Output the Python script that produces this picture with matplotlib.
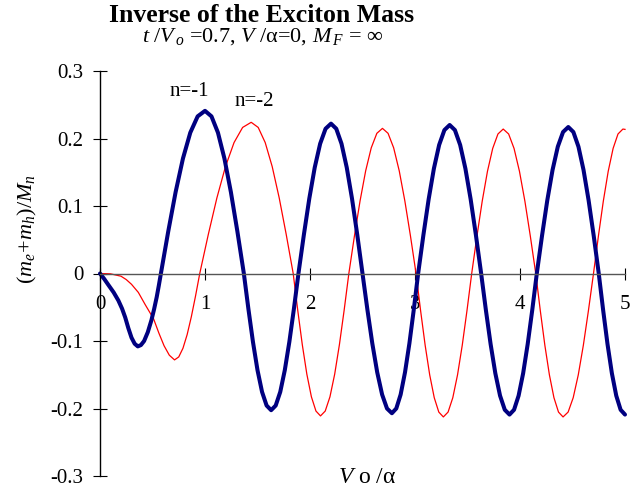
import matplotlib
matplotlib.use('Agg')
import matplotlib.pyplot as plt

# fonts
plt.rcParams['font.family'] = ['Liberation Serif', 'DejaVu Serif']
plt.rcParams['mathtext.fontset'] = 'custom'
plt.rcParams['mathtext.rm'] = 'Liberation Serif'
plt.rcParams['mathtext.it'] = 'Liberation Serif:italic'
plt.rcParams['mathtext.bf'] = 'Liberation Serif:bold'

# data
# n=-1 (thick blue)
x_n1 = [0.00, 0.04, 0.08, 0.13, 0.175, 0.21, 0.24, 0.27, 0.30, 0.33, 0.36,
        0.39, 0.42, 0.455, 0.49, 0.515, 0.54, 0.56, 0.58,
        0.65, 0.72, 0.79, 0.86, 0.93, 1.00,
        1.0617, 1.1233, 1.185, 1.2467, 1.3083, 1.37,
        1.4133, 1.4567, 1.50, 1.5433, 1.5867, 1.63,
        1.6733, 1.7167, 1.76, 1.8033, 1.8467, 1.89,
        1.9417, 1.9933, 2.045, 2.0967, 2.1483, 2.20,
        2.25, 2.30, 2.35, 2.40, 2.45, 2.50,
        2.5467, 2.5933, 2.64, 2.6867, 2.7333, 2.78,
        2.8217, 2.8633, 2.905, 2.9467, 2.9883, 3.03,
        3.08, 3.13, 3.18, 3.23, 3.28, 3.33,
        3.38, 3.43, 3.48, 3.53, 3.58, 3.63,
        3.675, 3.72, 3.765, 3.81, 3.855, 3.90,
        3.9433, 3.9867, 4.03, 4.0733, 4.1167, 4.16,
        4.21, 4.26, 4.31, 4.36, 4.41, 4.46,
        4.5083, 4.5567, 4.605, 4.6533, 4.7017, 4.75,
        4.7917, 4.8333, 4.875, 4.9167, 4.9583, 5.00]
y_n1 = [0.000, -0.008, -0.017, -0.028, -0.040, -0.052, -0.065, -0.081, -0.095, -0.104, -0.108,
        -0.106, -0.100, -0.087, -0.069, -0.053, -0.035, -0.018, 0.000,
        0.0624, 0.1205, 0.1704, 0.2087, 0.2328, 0.241,
        0.2328, 0.2087, 0.1704, 0.1205, 0.0624, 0.000,
        -0.0524, -0.1013, -0.1432, -0.1754, -0.1956, -0.2025,
        -0.1956, -0.1754, -0.1432, -0.1013, -0.0524, 0.000,
        0.0575, 0.111, 0.157, 0.1923, 0.2145, 0.222,
        0.2145, 0.1923, 0.157, 0.111, 0.0575, 0.000,
        -0.0536, -0.1035, -0.1463, -0.1793, -0.200, -0.207,
        -0.200, -0.1793, -0.1463, -0.1035, -0.0536, 0.000,
        0.057, 0.110, 0.1555, 0.1905, 0.2125, 0.220,
        0.2125, 0.1905, 0.1555, 0.110, 0.057, 0.000,
        -0.0541, -0.1045, -0.1478, -0.181, -0.2019, -0.209,
        -0.2019, -0.181, -0.1478, -0.1045, -0.0541, 0.000,
        0.0562, 0.1085, 0.1534, 0.1879, 0.2096, 0.217,
        0.2096, 0.1879, 0.1534, 0.1085, 0.0562, 0.000,
        -0.0541, -0.1045, -0.1478, -0.181, -0.2019, -0.209]

# n=-2 (thin red)
x_n2 = [0.00, 0.10, 0.20, 0.25, 0.30, 0.365, 0.43, 0.51, 0.56, 0.61, 0.66, 0.71,
        0.75, 0.79, 0.83, 0.87, 0.91, 0.95,
        1.0317, 1.1133, 1.195, 1.2767, 1.3583, 1.44,
        1.5067, 1.5733, 1.64, 1.7067, 1.7733, 1.84,
        1.8833, 1.9267, 1.97, 2.0133, 2.0567, 2.10,
        2.145, 2.19, 2.235, 2.28, 2.325, 2.37,
        2.4233, 2.4767, 2.53, 2.5833, 2.6367, 2.69,
        2.7433, 2.7967, 2.85, 2.9033, 2.9567, 3.01,
        3.0533, 3.0967, 3.14, 3.1833, 3.2267, 3.27,
        3.315, 3.36, 3.405, 3.45, 3.495, 3.54,
        3.59, 3.64, 3.69, 3.74, 3.79, 3.84,
        3.8917, 3.9433, 3.995, 4.0467, 4.0983, 4.15,
        4.1933, 4.2367, 4.28, 4.3233, 4.3667, 4.41,
        4.4583, 4.5067, 4.555, 4.6033, 4.6517, 4.70,
        4.7467, 4.7933, 4.84, 4.8867, 4.9333, 4.98, 5.00]
y_n2 = [0.000, -0.0005, -0.004, -0.009, -0.016, -0.028, -0.046, -0.067, -0.088, -0.107, -0.121, -0.128,
        -0.1236, -0.1108, -0.0905, -0.064, -0.0332, 0.000,
        0.058, 0.112, 0.1584, 0.194, 0.2164, 0.224,
        0.2164, 0.194, 0.1584, 0.112, 0.058, 0.000,
        -0.0546, -0.1055, -0.1492, -0.1827, -0.2038, -0.211,
        -0.2038, -0.1827, -0.1492, -0.1055, -0.0546, 0.000,
        0.0557, 0.1075, 0.152, 0.1862, 0.2077, 0.215,
        0.2077, 0.1862, 0.152, 0.1075, 0.0557, 0.000,
        -0.055, -0.1063, -0.1502, -0.184, -0.2053, -0.2125,
        -0.2053, -0.184, -0.1502, -0.1063, -0.055, 0.000,
        0.0554, 0.107, 0.1513, 0.1853, 0.2067, 0.214,
        0.2067, 0.1853, 0.1513, 0.107, 0.0554, 0.000,
        -0.055, -0.1063, -0.1502, -0.184, -0.2053, -0.2125,
        -0.2053, -0.184, -0.1502, -0.1063, -0.055, 0.000,
        0.0554, 0.107, 0.1513, 0.1853, 0.2067, 0.214, 0.2135]

x_ticks = [0, 1, 2, 3, 4, 5]
y_ticks = [-0.3, -0.2, -0.1, 0, 0.1, 0.2, 0.3]
y_ticklabels = ['-0.3', '-0.2', '-0.1', '0', '0.1', '0.2', '0.3']

# figure
fig = plt.figure(figsize=(6.41, 4.91), dpi=100)
ax = fig.add_axes([100/641, 15/491, 525/641, 405/491])

ax.plot(x_n2, y_n2, color='#ff0000', lw=0.9, solid_joinstyle='round',
        clip_on=False)
ax.plot(x_n1, y_n1, color='#000080', lw=2.9, solid_joinstyle='round',
        solid_capstyle='round', clip_on=False)

ax.set_xlim(0, 5)
ax.set_ylim(-0.3, 0.3)

# spines through origin
for s in ['top', 'right']:
    ax.spines[s].set_visible(False)
ax.spines['left'].set_position(('data', 0))
ax.spines['bottom'].set_position(('data', 0))
ax.spines['bottom'].set_color('#555555')
ax.spines['left'].set_linewidth(1.0)
ax.spines['bottom'].set_linewidth(1.0)

ax.set_xticks(x_ticks)
ax.set_xticklabels([str(t) for t in x_ticks])
ax.set_yticks(y_ticks)
ax.set_yticklabels(y_ticklabels)
ax.tick_params(axis='x', direction='inout', length=9, width=0.8,
               labelsize=15, pad=11, color='black')
ax.tick_params(axis='y', direction='inout', length=10, width=0.8,
               labelsize=15, pad=7)

# annotations
ax.text(0.85, 0.263, 'n=-1', fontsize=15, ha='center', va='baseline')
ax.text(1.467, 0.248, 'n=-2', fontsize=15, ha='center', va='baseline')

# titles
fig.text(262/641, 1 - 21.7/491, 'Inverse of the Exciton Mass',
         fontsize=18.5, fontweight='bold', ha='center', va='baseline')
fig.text(263/641, 1 - 41.7/491,
         r'$t\ /V_{\,o}$ =0.7, $V\ /$α=0, $M_{\,F}$ = ∞',
         fontsize=16, ha='center', va='baseline')

# axis labels
fig.text(367/641, 1 - 483/491, r'$V\ $o$\ /$α', fontsize=17,
         ha='center', va='baseline')
fig.text(27/641, 1 - 229/491, r'$(m_e\!+\!m_h)/M_n$', fontsize=16,
         rotation=90, ha='center', va='center')

fig.savefig('out.png', dpi=100)
